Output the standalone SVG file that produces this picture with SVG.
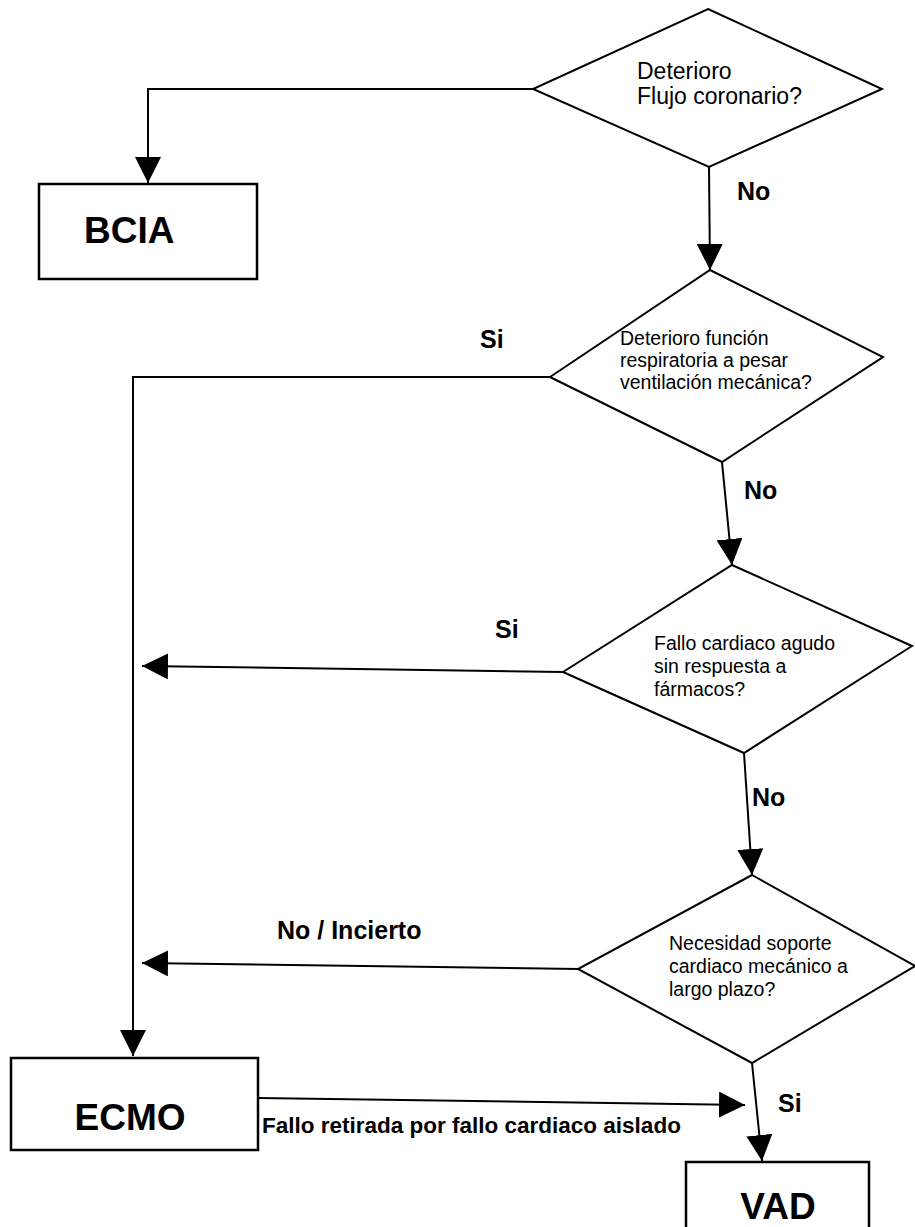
<svg xmlns="http://www.w3.org/2000/svg" width="915" height="1227" viewBox="0 0 915 1227">
<style>
.shape{fill:#fff;stroke:#000;stroke-width:2}
.box{fill:#fff;stroke:#000;stroke-width:2.5}
.con{fill:none;stroke:#000;stroke-width:2}
.q{font-family:"Liberation Sans",Arial,sans-serif;font-size:19.5px;fill:#000}
.lbl{font-family:"Liberation Sans",Arial,sans-serif;font-size:25px;font-weight:bold;fill:#000}
.big{font-family:"Liberation Sans",Arial,sans-serif;font-size:37px;font-weight:bold;fill:#000}
</style>
<defs>
<marker id="ah" markerUnits="userSpaceOnUse" markerWidth="26" markerHeight="26" refX="26" refY="13" orient="auto">
<path d="M0,0 L26,13 L0,26 z" fill="#000"/>
</marker>
</defs>
<rect width="915" height="1227" fill="#fff"/>
<g id="connectors">
<polyline class="con" points="533,89 148,89 148,183" marker-end="url(#ah)"/>
<line class="con" x1="709" y1="167" x2="710" y2="270" marker-end="url(#ah)"/>
<polyline class="con" points="550,377 133,377 133,1056" marker-end="url(#ah)"/>
<line class="con" x1="722" y1="462" x2="732" y2="565" marker-end="url(#ah)"/>
<line class="con" x1="563" y1="672" x2="142" y2="666" marker-end="url(#ah)"/>
<line class="con" x1="744" y1="753" x2="752" y2="875" marker-end="url(#ah)"/>
<line class="con" x1="578" y1="969" x2="142" y2="963" marker-end="url(#ah)"/>
<line class="con" x1="752" y1="1063" x2="762" y2="1161" marker-end="url(#ah)"/>
<line class="con" x1="258" y1="1098" x2="745" y2="1105" marker-end="url(#ah)"/>
<text class="lbl" x="737" y="200">No</text>
<text class="lbl" x="480" y="348">Si</text>
<text class="lbl" x="744" y="499">No</text>
<text class="lbl" x="495" y="638">Si</text>
<text class="lbl" x="752" y="806">No</text>
<text class="lbl" x="277" y="939">No / Incierto</text>
<text class="lbl" x="778" y="1112">Si</text>
<text class="lbl" x="262" y="1133" style="font-size:22.5px">Fallo retirada por fallo cardiaco aislado</text>
</g>
<g id="d1">
<polygon class="shape" points="708,9 882,89 709,167 533,89"/>
<text class="q" style="font-size:23px" x="637" y="79">Deterioro</text>
<text class="q" style="font-size:23px" x="637" y="104">Flujo coronario?</text>
</g>
<g id="bcia">
<rect class="box" x="39" y="184" width="218" height="95"/>
<text class="big" x="84" y="243">BCIA</text>
</g>
<g id="d2">
<polygon class="shape" points="710,270 883,357 722,462 550,377"/>
<text class="q" x="620" y="345">Deterioro función</text>
<text class="q" x="620" y="367">respiratoria a pesar</text>
<text class="q" x="620" y="389">ventilación mecánica?</text>
</g>
<g id="d3">
<polygon class="shape" points="732,565 912,646 744,753 563,672"/>
<text class="q" x="654" y="650">Fallo cardiaco agudo</text>
<text class="q" x="654" y="673">sin respuesta a</text>
<text class="q" x="654" y="696">fármacos?</text>
</g>
<g id="d4">
<polygon class="shape" points="752,875 915,966 752,1063 578,969"/>
<text class="q" x="669" y="950">Necesidad soporte</text>
<text class="q" x="669" y="973">cardiaco mecánico a</text>
<text class="q" x="669" y="996">largo plazo?</text>
</g>
<g id="ecmo">
<rect class="box" x="11" y="1058" width="247" height="92"/>
<text class="big" x="130" y="1130" text-anchor="middle">ECMO</text>
</g>
<g id="vad">
<rect class="box" x="686" y="1162" width="183" height="80"/>
<text class="big" x="778" y="1219" text-anchor="middle">VAD</text>
</g>
</svg>
